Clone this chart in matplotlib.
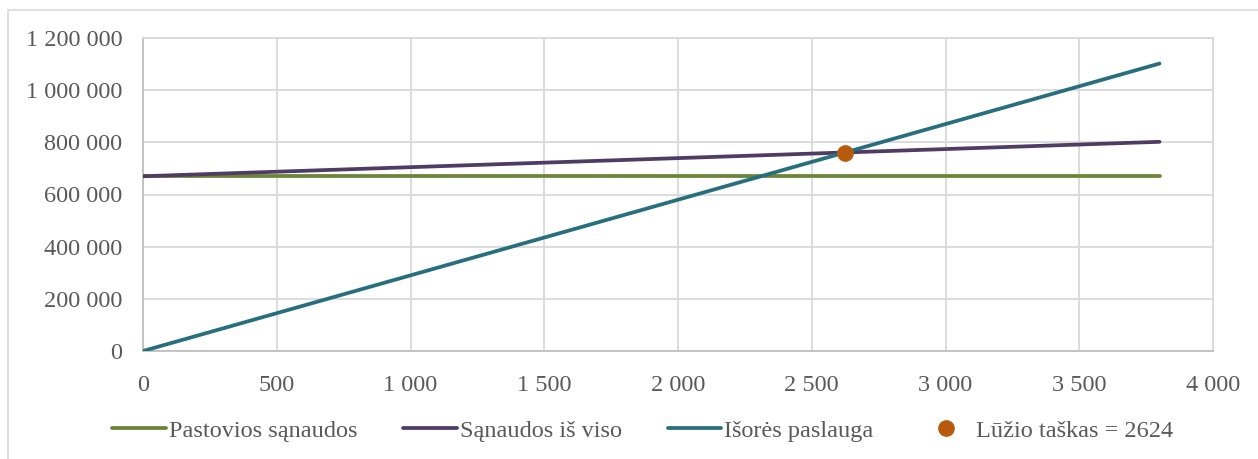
import matplotlib
matplotlib.use('Agg')
import matplotlib.pyplot as plt
import matplotlib.ticker as mticker
from matplotlib.patches import Rectangle

# data
kiekis = [0, 3800]
pastovios = [670000, 670000]
is_viso = [670000, 802000]
isores = [0, 1102000]
luzio_x = [2624]
luzio_y = [761000]

labels = ['Pastovios sąnaudos', 'Sąnaudos iš viso', 'Išorės paslauga', 'Lūžio taškas = 2624']
colors = ['#6B8436', '#4F3B64', '#276E7F', '#B85A0E']

plt.rcParams['font.family'] = ['Liberation Serif', 'DejaVu Serif']
fs = 17.5
plt.rcParams['font.size'] = fs
txt = '#595959'

fig = plt.figure(figsize=(12.58, 4.59), dpi=100)
# chart outer frame (cut by the image edge)
fig.patches.append(Rectangle((8 / 1258, -0.1), 1.1, (459 - 10) / 459 + 0.1,
                             transform=fig.transFigure, fill=False,
                             edgecolor='#D9D9D9', linewidth=1.2))

ax = fig.add_axes([143 / 1258, 108 / 459, 1070 / 1258, 313 / 459])
lw = 2.7
ax.plot(kiekis, pastovios, color=colors[0], lw=lw, label=labels[0], solid_capstyle='round', zorder=3)
ax.plot(kiekis, is_viso, color=colors[1], lw=lw, label=labels[1], solid_capstyle='round', zorder=3)
ax.plot(kiekis, isores, color=colors[2], lw=lw, label=labels[2], solid_capstyle='round', zorder=4)
ax.plot(luzio_x, luzio_y, 'o', color=colors[3], markersize=11, label=labels[3], zorder=5)

ax.set_xlim(0, 4000)
ax.set_ylim(0, 1200000)
ax.set_xticks(range(0, 4001, 500))
ax.set_yticks(range(0, 1200001, 200000))
fmt = mticker.FuncFormatter(lambda v, p: f'{int(v):,}'.replace(',', ' '))
ax.xaxis.set_major_formatter(fmt)
ax.yaxis.set_major_formatter(fmt)
ax.grid(True, color='#D9D9D9', linewidth=1.3)
ax.set_axisbelow(True)
for s in ax.spines.values():
    s.set_color('#D9D9D9')
    s.set_linewidth(1.3)
ax.spines['left'].set_color('#BFBFBF')
ax.spines['bottom'].set_color('#BFBFBF')
ax.tick_params(length=0, colors=txt, labelsize=fs)
ax.tick_params(axis='x', pad=17)
ax.tick_params(axis='y', pad=15)

leg = ax.legend(loc='center', bbox_to_anchor=(0.467, -0.255), ncol=4, frameon=False,
                handlelength=2.2, handletextpad=0.12, columnspacing=1.9,
                fontsize=fs)
for t in leg.get_texts():
    t.set_color(txt)

fig.savefig('out.png', dpi=100)
